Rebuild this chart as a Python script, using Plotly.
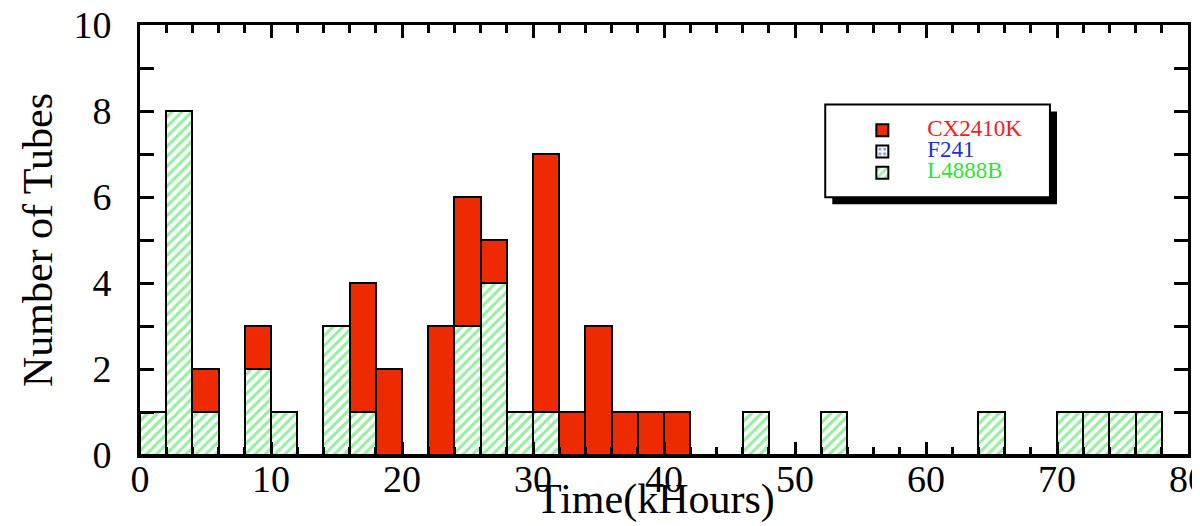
import plotly.graph_objects as go

# Bin starts (kHours), bin width 2
bin_starts = [0, 2, 4, 6, 8, 10, 12, 14, 16, 18, 20, 22, 24, 26, 28, 30, 32, 34, 36, 38,
              40, 42, 44, 46, 48, 50, 52, 54, 56, 58, 60, 62, 64, 66, 68, 70, 72, 74, 76, 78]
cx2410k = [0, 0, 1, 0, 1, 0, 0, 0, 3, 2, 0, 3, 3, 1, 0, 6, 1, 3, 1, 1,
           1, 0, 0, 0, 0, 0, 0, 0, 0, 0, 0, 0, 0, 0, 0, 0, 0, 0, 0, 0]
f241 = [0, 0, 0, 0, 0, 0, 0, 0, 0, 0, 0, 0, 0, 0, 0, 0, 0, 0, 0, 0,
        0, 0, 0, 0, 0, 0, 0, 0, 0, 0, 0, 0, 0, 0, 0, 0, 0, 0, 0, 0]
l4888b = [1, 8, 1, 0, 2, 1, 0, 3, 1, 0, 0, 0, 3, 4, 1, 1, 0, 0, 0, 0,
          0, 0, 0, 1, 0, 0, 1, 0, 0, 0, 0, 0, 1, 0, 0, 1, 1, 1, 1, 0]

bin_width = 2
centers = [b + bin_width / 2 for b in bin_starts]

RED = "#ee2a00"
GREEN = "#2fdc45"
BLUE = "#2030e0"
FONT = "Liberation Serif"

def legend_name(text, color):
    return f"<span style='color:{color};font-size:23px'>{text}</span>"

fig = go.Figure()
fig.add_trace(go.Bar(
    x=centers, y=l4888b, width=bin_width,
    name=legend_name("L4888B", "#33e033"),
    marker=dict(color="white", line=dict(color="black", width=2),
                pattern=dict(shape="/", fgcolor=GREEN, bgcolor="white", size=7, solidity=0.45)),
    legendrank=3,
))
fig.add_trace(go.Bar(
    x=centers, y=f241, width=bin_width,
    name=legend_name("F241", "#2030e0"),
    marker=dict(color="white", line=dict(color="black", width=2),
                pattern=dict(shape=".", fgcolor=BLUE, bgcolor="white", size=6, solidity=0.35)),
    legendrank=2,
))
fig.add_trace(go.Bar(
    x=centers, y=cx2410k, width=bin_width,
    name=legend_name("CX2410K", "#ee2222"),
    marker=dict(color=RED, line=dict(color="black", width=2)),
    legendrank=1,
))

axis_common = dict(
    showline=True, linecolor="black", linewidth=3, mirror="ticks",
    ticks="inside", tickcolor="black", tickwidth=3,
    showgrid=False, zeroline=False, automargin=False,
    ticklabeloverflow="allow",
    tickfont=dict(family=FONT, size=38, color="black"),
)

fig.update_xaxes(
    range=[0, 80], tick0=0, dtick=10, ticklen=13, ticklabelstandoff=-12,
    minor=dict(dtick=2, ticks="inside", ticklen=8, tickwidth=3, tickcolor="black"),
    **axis_common,
)
fig.update_yaxes(
    range=[0, 10], tick0=0, dtick=2, ticklen=14, ticklabelstandoff=18,
    minor=dict(dtick=1, ticks="inside", ticklen=14, tickwidth=3, tickcolor="black"),
    title=dict(text="Number of Tubes", font=dict(family=FONT, size=42, color="black"), standoff=8),
    **axis_common,
)

# Legend box with drop shadow
fig.add_shape(type="rect", xref="paper", yref="paper",
              x0=(827 - 140) / 1040, x1=(1050 - 140) / 1040,
              y0=(447 - 201) / 422, y1=(447 - 110) / 422,
              fillcolor="black", line=dict(width=0), layer="above")
fig.add_shape(type="rect", xref="paper", yref="paper",
              x0=(820 - 140) / 1040, x1=(1043 - 140) / 1040,
              y0=(447 - 194) / 422, y1=(447 - 103) / 422,
              fillcolor="white", line=dict(color="black", width=2), layer="above")

fig.add_annotation(text="Time(kHours)", xref="paper", yref="paper",
                   x=(652 - 140) / 1040, y=(447 - 491) / 422, yanchor="middle", xanchor="center",
                   showarrow=False, font=dict(family=FONT, size=42, color="black"))

# The page body adds an 8px margin, so the figure is 8px smaller and margins shifted.
fig.update_layout(
    width=1192, height=518,
    margin=dict(l=132, r=12, t=17, b=71),
    barmode="stack", bargap=0,
    plot_bgcolor="white", paper_bgcolor="white",
    showlegend=True,
    legend=dict(x=(832 - 140) / 1040, y=(447 - 113) / 422, xanchor="left", yanchor="top",
                bgcolor="rgba(0,0,0,0)", borderwidth=0, traceorder="normal",
                font=dict(family=FONT, size=14), tracegroupgap=0,
                itemwidth=80, itemsizing="constant"),
)

fig.write_html("out.html")
